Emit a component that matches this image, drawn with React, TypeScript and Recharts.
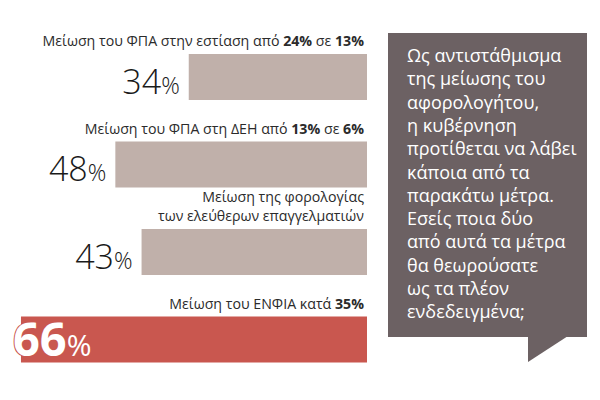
import { BarChart, Bar, XAxis, YAxis, Cell, LabelList } from 'recharts';

const FONT = '"Open Sans", "Noto Sans", sans-serif';
const GREY = '#c0b0aa';
const RED = '#c9574f';
const BOX = '#6c6163';

// *...* marks bold parts, \n splits lines
const categories = [
  'Μείωση του ΦΠΑ στην εστίαση από *24%* σε *13%*',
  'Μείωση του ΦΠΑ στη ΔΕΗ από *13%* σε *6%*',
  'Μείωση της φορολογίας\nτων ελεύθερων επαγγελματιών',
  'Μείωση του ΕΝΦΙΑ κατά *35%*',
];
const shares = [34, 48, 43, 66];

const questionLines = [
  'Ως αντιστάθμισμα',
  'της μείωσης του',
  'αφορολογήτου,',
  'η κυβέρνηση',
  'προτίθεται να λάβει',
  'κάποια από τα',
  'παρακάτω μέτρα.',
  'Εσείς ποια δύο',
  'από αυτά τα μέτρα',
  'θα θεωρούσατε',
  'ως τα πλέον',
  'ενδεδειγμένα;',
];

const data = categories.map((label, i) => ({ label, share: shares[i] }));
const topIndex = shares.indexOf(Math.max(...shares));

function CategoryLabel(props: any) {
  const { x, y, width, value } = props;
  const right = Math.max(x, x + width);
  const lines = String(value).split('\n');
  return (
    <g>
      {lines.map((line, i) => (
        <text
          key={i}
          x={right - 3}
          y={y - 8 - (lines.length - 1 - i) * 19}
          textAnchor="end"
          fontFamily={FONT}
          fontSize={14.2}
          fill="#2b2b2b"
        >
          {line.split('*').map((part, j) => (
            <tspan key={j} fontWeight={j % 2 ? 700 : 400}>{part}</tspan>
          ))}
        </text>
      ))}
    </g>
  );
}

function ShareLabel(props: any) {
  const { x, y, width, height, value, index } = props;
  const left = Math.min(x, x + width);
  const mid = y + height / 2;
  if (index === topIndex) {
    return (
      <text
        x={left - 8}
        y={mid + 16}
        fontFamily={FONT}
        fill="#fff"
        stroke={RED}
        strokeWidth={2}
        paintOrder="stroke"
      >
        <tspan fontSize={47} fontWeight={700}>{value}</tspan>
        <tspan fontSize={30} fontWeight={400}>%</tspan>
      </text>
    );
  }
  return (
    <text x={left - 9} y={mid + 16.5} textAnchor="end" fontFamily={FONT} fill="#1a1a1a">
      <tspan fontSize={34} fontWeight={300}>{value}</tspan>
      <tspan fontSize={23} fontWeight={300}>%</tspan>
    </text>
  );
}

export default function App() {
  return (
    <div style={{ position: 'absolute', left: 0, top: 0, width: 600, height: 400, background: '#fff' }}>
      <BarChart
        width={600}
        height={400}
        data={data}
        layout="vertical"
        margin={{ top: 33, right: 233, bottom: 17, left: 0 }}
      >
        <XAxis type="number" domain={[0, 70]} reversed hide />
        <YAxis type="category" dataKey="label" hide />
        <Bar dataKey="share" barSize={46} isAnimationActive={false}>
          {data.map((d, i) => (
            <Cell key={d.label} fill={i === topIndex ? RED : GREY} />
          ))}
          <LabelList dataKey="label" content={CategoryLabel} />
          <LabelList dataKey="share" content={ShareLabel} />
        </Bar>
      </BarChart>
      <svg
        width={600}
        height={400}
        style={{ position: 'absolute', left: 0, top: 0, pointerEvents: 'none' }}
      >
        <rect x={388} y={33} width={199} height={304} fill={BOX} />
        <polygon points="528,336 568,336 528,362" fill={BOX} />
        <text fontFamily={FONT} fontSize={18} fill="#fff">
          {questionLines.map((line, i) => (
            <tspan key={i} x={407} y={62 + i * 23.3}>{line}</tspan>
          ))}
        </text>
      </svg>
    </div>
  );
}
